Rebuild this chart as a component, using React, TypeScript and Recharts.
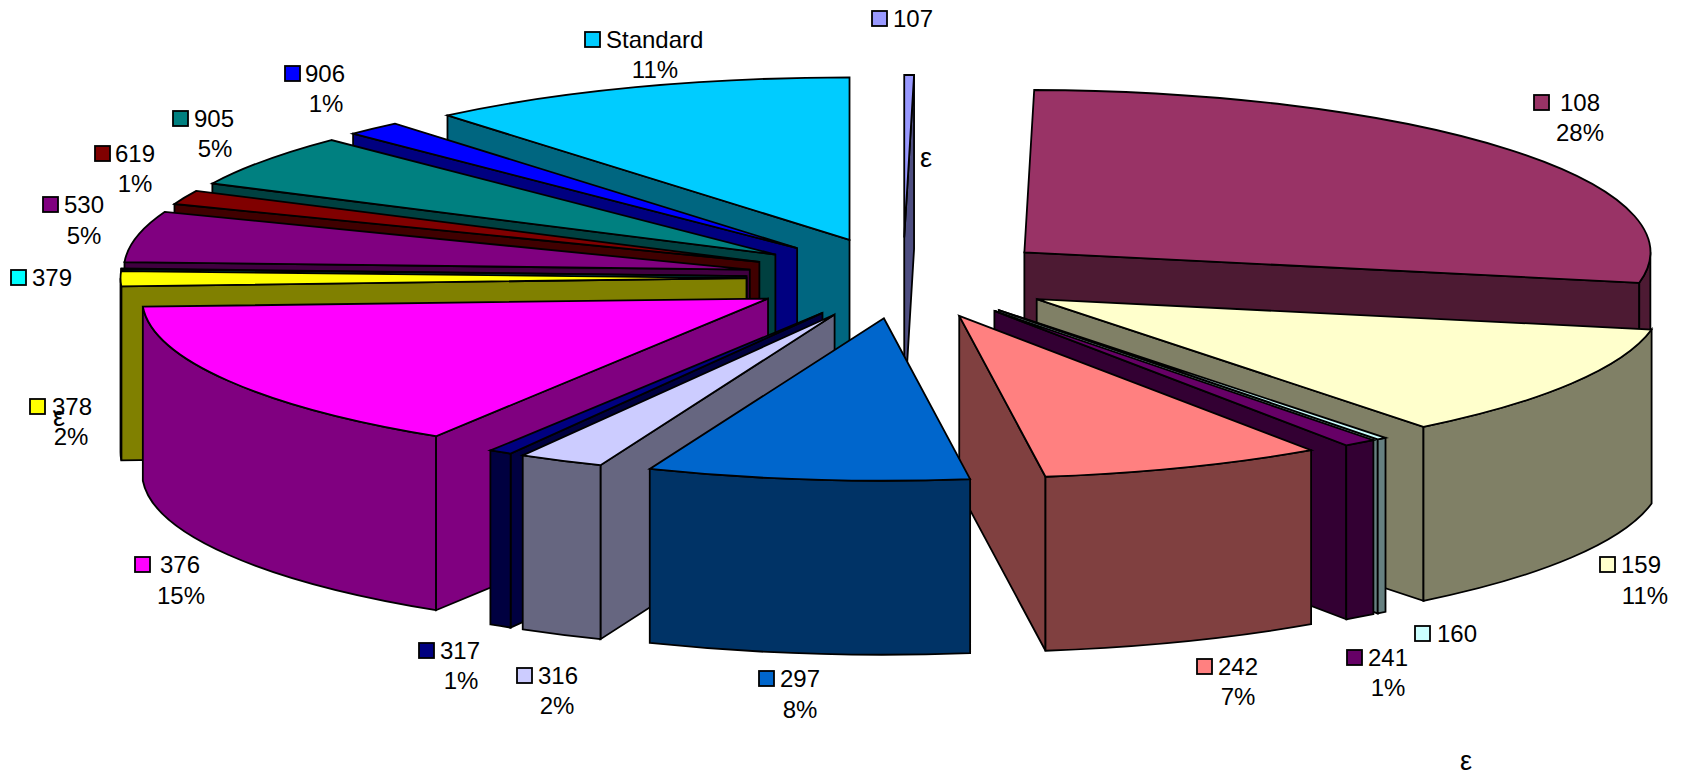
import React from "react";
import { PieChart, Pie } from "recharts";

const categories = ["107", "108", "159", "160", "241", "242", "297", "316", "317", "376", "378", "379", "530", "619", "905", "906", "Standard"];
const shares = [0.25, 27.75, 11.4, 0.25, 0.85, 7.3, 8.3, 2.2, 0.6, 15.3, 1.5, 0.05, 5.05, 1.4, 5.25, 1.45, 11.1];
const percentLabels = ["", "28%", "11%", "", "1%", "7%", "8%", "2%", "1%", "15%", "2%", "", "5%", "1%", "5%", "1%", "11%"];
const topColors = ["#9999FF", "#993366", "#FFFFCC", "#CCFFFF", "#660066", "#FF8080", "#0066CC", "#CCCCFF", "#000080", "#FF00FF", "#FFFF00", "#00FFFF", "#800080", "#800000", "#008080", "#0000FF", "#00CCFF"];
const wallColors = ["#4D4D80", "#4D1A33", "#808066", "#668080", "#330033", "#804040", "#003366", "#666680", "#000040", "#800080", "#808000", "#008080", "#400040", "#400000", "#004040", "#000080", "#006680"];

// label layout: key left, name left, name y, percent centre x, percent y
const labelSpots = [
  [872, 893, 18, 0, 0], [1534, 1560, 102, 1580, 132], [1600, 1621, 564, 1645, 595], [1415, 1437, 633, 0, 0],
  [1347, 1368, 657, 1388, 687], [1197, 1218, 666, 1238, 696], [759, 780, 678, 800, 709], [517, 538, 675, 557, 705],
  [419, 440, 650, 461, 680], [135, 160, 564, 181, 595], [30, 52, 406, 71, 436], [11, 32, 277, 0, 0],
  [43, 64, 204, 84, 235], [95, 115, 153, 135, 183], [173, 194, 118, 215, 148], [285, 305, 73, 326, 103], [585, 606, 39, 655, 69],
];
const strayMarks = [[926, 159], [59, 418], [1466, 762]];

const WIDTH = 1686;
const HEIGHT = 774;
const CX = 903;
const CY = 278;
const RX = 626;
const TILT = 162.4 / 626;
const EXPLODE = 0.25;
const DEPTH = 174;
const FONT = "'Liberation Sans', Arial, sans-serif";
const FONT_SIZE = 24;

const data = categories.map((name, i) => ({ name, value: shares[i], index: i }));
const reversed = [...data].reverse();

const rad = (d: number) => (d * Math.PI) / 180;

function Slice3D(props: any, half: "right" | "left") {
  const { cx, cy, outerRadius, startAngle, endAngle, payload } = props;
  const a = 90 - startAngle;
  const b = 90 - endAngle;
  const lo = Math.min(a, b);
  const hi = Math.max(a, b);
  const mid = (lo + hi) / 2;
  if ((half === "right") !== mid < 180) return <g />;
  const i = payload.index;
  const rx = outerRadius;
  const ry = outerRadius * TILT;
  const ax = cx + EXPLODE * rx * Math.sin(rad(mid));
  const ay = cy - EXPLODE * ry * Math.cos(rad(mid));
  const pt = (t: number): [number, number] => [ax + rx * Math.sin(rad(t)), ay - ry * Math.cos(rad(t))];
  const [x1, y1] = pt(lo);
  const [x2, y2] = pt(hi);
  const line = { stroke: "#000", strokeWidth: 1.8, strokeLinejoin: "miter" as const };
  const top = topColors[i];
  const wall = wallColors[i];
  const walls: React.ReactNode[] = [];
  if (x1 < ax) {
    walls.push(<path key="s" d={`M${ax} ${ay}L${x1} ${y1}L${x1} ${y1 + DEPTH}L${ax} ${ay + DEPTH}Z`} fill={wall} {...line} />);
  }
  if (x2 > ax) {
    walls.push(<path key="e" d={`M${ax} ${ay}L${x2} ${y2}L${x2} ${y2 + DEPTH}L${ax} ${ay + DEPTH}Z`} fill={wall} {...line} />);
  }
  const wLo = Math.max(lo, 90);
  const wHi = Math.min(hi, 270);
  if (wHi > wLo) {
    const [ox1, oy1] = pt(wLo);
    const [ox2, oy2] = pt(wHi);
    walls.push(
      <path
        key="o"
        d={`M${ox1} ${oy1}A${rx} ${ry} 0 0 1 ${ox2} ${oy2}L${ox2} ${oy2 + DEPTH}A${rx} ${ry} 0 0 0 ${ox1} ${oy1 + DEPTH}Z`}
        fill={wall}
        {...line}
      />
    );
  }
  return (
    <g>
      {walls}
      <path d={`M${ax} ${ay}L${x1} ${y1}A${rx} ${ry} 0 0 1 ${x2} ${y2}Z`} fill={top} {...line} />
    </g>
  );
}

function SliceLabel(props: any) {
  const i = props.payload?.index ?? props.index;
  const [kx, tx, y, px, py] = labelSpots[i];
  const style = { fontFamily: FONT, fontSize: FONT_SIZE, fill: "#000" };
  return (
    <g>
      <rect x={kx} y={y - 7} width={15} height={15} fill={topColors[i]} stroke="#000" strokeWidth={1.8} />
      <text x={tx} y={y + 8.5} {...style}>{categories[i]}</text>
      {percentLabels[i] ? (
        <text x={px} y={py + 8.5} textAnchor="middle" {...style}>{percentLabels[i]}</text>
      ) : null}
    </g>
  );
}

export default function App() {
  return (
    <div style={{ position: "absolute", left: 0, top: 0, width: WIDTH, height: HEIGHT, background: "#fff" }}>
      <PieChart width={WIDTH} height={HEIGHT} margin={{ top: 0, right: 0, bottom: 0, left: 0 }}>
        <Pie
          data={data}
          dataKey="value"
          nameKey="name"
          cx={CX}
          cy={CY}
          outerRadius={RX}
          startAngle={90}
          endAngle={-270}
          stroke="none"
          isAnimationActive={false}
          shape={(p: any) => Slice3D(p, "right")}
        />
        <Pie
          data={reversed}
          dataKey="value"
          nameKey="name"
          cx={CX}
          cy={CY}
          outerRadius={RX}
          startAngle={-270}
          endAngle={90}
          stroke="none"
          isAnimationActive={false}
          shape={(p: any) => Slice3D(p, "left")}
          labelLine={false}
          label={(p: any) => <SliceLabel {...p} />}
        />
        {strayMarks.map(([x, y], i) => (
          <text key={i} x={x} y={y + 8} textAnchor="middle" style={{ fontFamily: FONT, fontSize: 27, fill: "#000" }}>ε</text>
        ))}
      </PieChart>
    </div>
  );
}
